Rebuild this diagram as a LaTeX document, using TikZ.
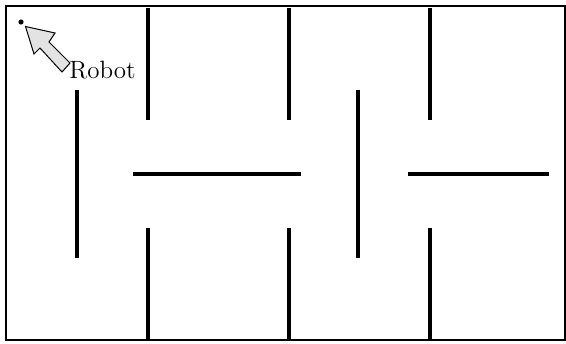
\documentclass[tikz,border=0pt]{standalone}
\begin{document}
\begin{tikzpicture}[x=0.5pt,y=-0.5pt,
  wall/.style={line width=1.6pt},
  frame/.style={line width=0.7pt},
  robotarrow/.style={draw=black,fill=gray!22,line width=0.5pt,line join=miter}]
\useasboundingbox (0,0) rectangle (566,343);
\draw[frame] (6,6) rectangle (565,340);
% walls
\draw[wall] (148,8) -- (148,120);
\draw[wall] (289,8) -- (289,120);
\draw[wall] (430,8) -- (430,120);
\draw[wall] (77,90) -- (77,258);
\draw[wall] (358,90) -- (358,258);
\draw[wall] (133,174) -- (301,174);
\draw[wall] (408,174) -- (549,174);
\draw[wall] (148,228) -- (148,339);
\draw[wall] (289,228) -- (289,339);
\draw[wall] (430,228) -- (430,339);
% robot
\fill (21,22) circle[radius=2.6];
\draw[robotarrow] (25.5,26.5) -- (34,54) -- (40,48) -- (62,72) -- (70,63) -- (49,42) -- (55,33) -- cycle;
\node[font=\fontsize{12.5}{15}\selectfont,inner sep=0pt,anchor=base west] (robot) at (69,78) {Robot};
\end{tikzpicture}
\end{document}
